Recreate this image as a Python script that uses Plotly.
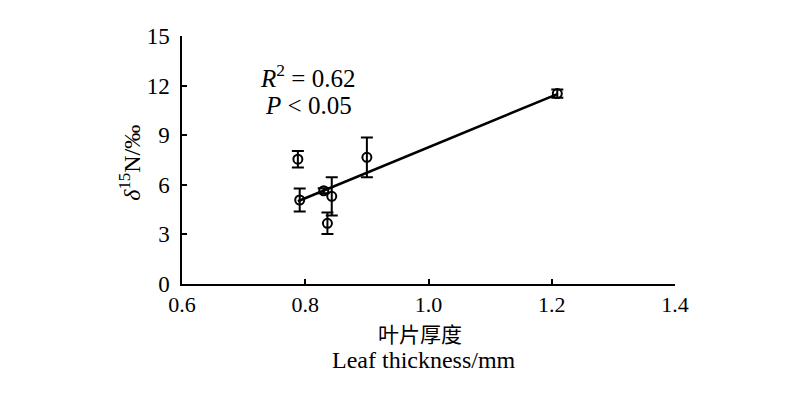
import plotly.graph_objects as go
import numpy as np

# data
leaf_thickness = [0.788, 0.791, 0.830, 0.843, 0.836, 0.900, 1.209]
delta15N = [7.55, 5.08, 5.64, 5.30, 3.67, 7.66, 11.52]
delta15N_err = [0.50, 0.70, 0.15, 1.15, 0.65, 1.20, 0.25]
fit_slope = 15.4
fit_intercept = -7.13
x_ticks = [0.6, 0.8, 1.0, 1.2, 1.4]
x_ticklabels = ["0.6", "0.8", "1.0", "1.2", "1.4"]
y_ticks = [0, 3, 6, 9, 12, 15]

serif = "Liberation Serif, Times New Roman, serif"

fig = go.Figure()

fx = np.array([min(leaf_thickness), max(leaf_thickness)])
fig.add_trace(go.Scatter(
    x=fx, y=fit_slope * fx + fit_intercept, mode="lines",
    line=dict(color="black", width=2.5), showlegend=False, hoverinfo="skip"))

fig.add_trace(go.Scatter(
    x=leaf_thickness, y=delta15N, mode="markers",
    marker=dict(symbol="circle-open", size=9, color="black", line=dict(width=2, color="black")),
    error_y=dict(type="data", array=delta15N_err, visible=True, color="black", thickness=2, width=6),
    showlegend=False))

fig.update_layout(
    width=800, height=395,
    margin=dict(l=174, r=133, t=28, b=119),
    plot_bgcolor="white", paper_bgcolor="white",
    font=dict(family=serif, size=24, color="black"),
    xaxis=dict(range=[0.6, 1.4], tickvals=x_ticks, ticktext=x_ticklabels,
               showline=True, linecolor="black", linewidth=1.5,
               ticks="inside", ticklen=5, tickwidth=1.5, tickcolor="black",
               showgrid=False, zeroline=False, ticklabelstandoff=0,
               tickfont=dict(family=serif, size=22)),
    yaxis=dict(range=[0, 15], tickvals=y_ticks,
               showline=True, linecolor="black", linewidth=1.5,
               ticks="inside", ticklen=5, tickwidth=1.5, tickcolor="black",
               showgrid=False, zeroline=False, ticklabelstandoff=6,
               tickfont=dict(family=serif, size=23)),
)

fig.add_annotation(xref="paper", yref="paper", x=-0.105, y=0.49, xanchor="center", yanchor="middle",
                   text="<i>δ</i><sup>15</sup>N/‰", showarrow=False, textangle=-90,
                   font=dict(family=serif, size=24, color="black"))
fig.add_annotation(xref="paper", yref="paper", x=0.483, y=-0.196, xanchor="center", yanchor="middle",
                   text="叶片厚度", showarrow=False,
                   font=dict(family="Noto Sans CJK SC", size=21, color="black"))
fig.add_annotation(xref="paper", yref="paper", x=0.49, y=-0.305, xanchor="center", yanchor="middle",
                   text="Leaf thickness/mm", showarrow=False,
                   font=dict(family=serif, size=24, color="black"))
fig.add_annotation(xref="paper", yref="paper", x=0.254, y=0.84, xanchor="center", yanchor="middle",
                   text="<i>R</i><sup>2</sup> = 0.62", showarrow=False,
                   font=dict(family=serif, size=25, color="black"))
fig.add_annotation(xref="paper", yref="paper", x=0.256, y=0.72, xanchor="center", yanchor="middle",
                   text="<i>P</i> < 0.05", showarrow=False,
                   font=dict(family=serif, size=25, color="black"))

fig.write_html("out.html")
